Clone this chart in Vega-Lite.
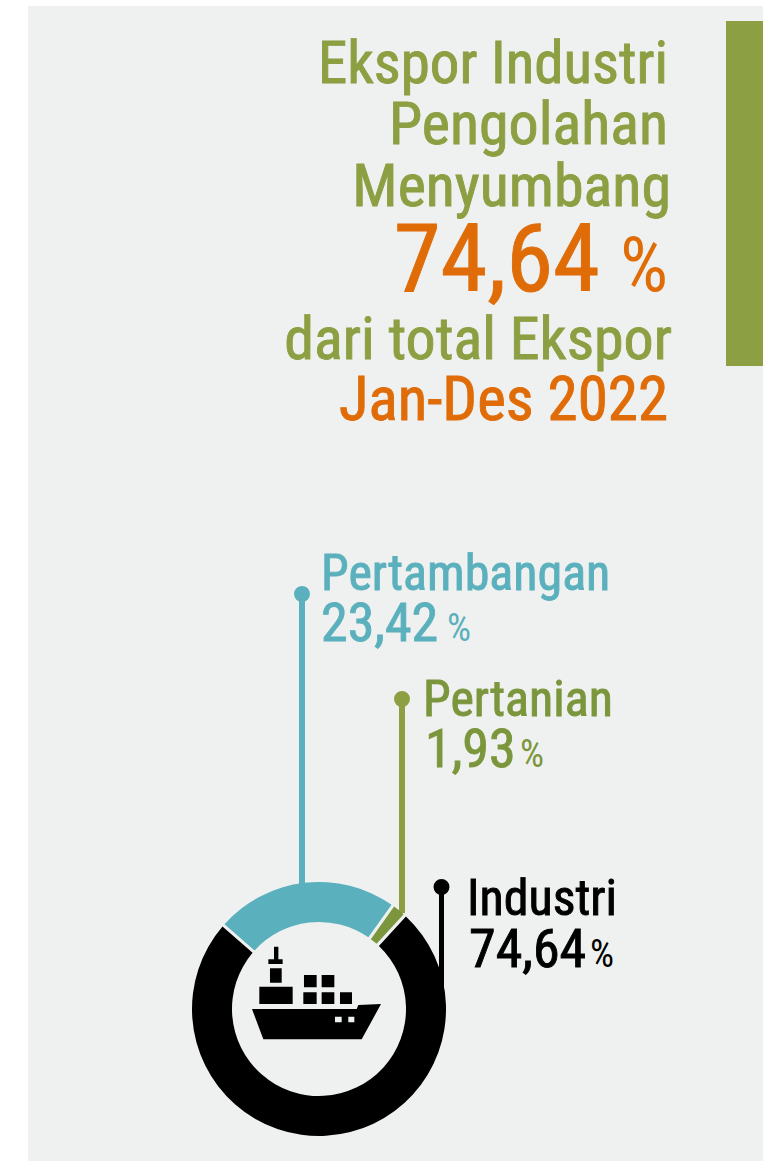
{"$schema":"https://vega.github.io/schema/vega-lite/v6.json","width":735,"height":1155,"padding":{"left":28,"top":6,"right":0,"bottom":0},"autosize":"none","background":"#ffffff","config":{"text":{"font":"Roboto Condensed, Lato","fontWeight":400,"strokeWidth":0.9}},"layer":[
{"data":{"values":[{"k":"panel"}]},"mark":{"type":"rect","x":0,"x2":735,"y":0,"y2":1155,"fill":"#eff1f0"},"encoding":{}},
{"data":{"values":[{"k":"bar"}]},"mark":{"type":"rect","x":698,"x2":735,"y":15,"y2":360,"fill":"#8c9f42"},"encoding":{}},
{"data":{"values":[{"label":"Pertambangan"}]},"mark":{"type":"rect","x":271,"x2":277,"y":588,"y2":880,"fill":"#5bb0bd"},"encoding":{}},
{"data":{"values":[{"label":"Pertanian"}]},"mark":{"type":"rect","x":371,"x2":377,"y":693,"y2":907,"fill":"#8c9f42"},"encoding":{}},
{"data":{"values":[{"label":"Industri"}]},"mark":{"type":"rect","x":411,"x2":416,"y":881,"y2":1000,"fill":"#000000"},"encoding":{}},
{"data":{"values":[{"label":"Pertambangan"}]},"mark":{"type":"point","filled":true,"x":274,"y":588,"size":254,"fill":"#5bb0bd","opacity":1},"encoding":{}},
{"data":{"values":[{"label":"Pertanian"}]},"mark":{"type":"point","filled":true,"x":374,"y":693,"size":254,"fill":"#8c9f42","opacity":1},"encoding":{}},
{"data":{"values":[{"label":"Industri"}]},"mark":{"type":"point","filled":true,"x":413.5,"y":881,"size":254,"fill":"#000000","opacity":1},"encoding":{}},
{"data":{"values":[{"sektor":"Industri","nilai":74.64,"urut":1},{"sektor":"Pertambangan","nilai":23.42,"urut":2},{"sektor":"Pertanian","nilai":1.93,"urut":3}]},"mark":{"type":"arc","x":291,"y":1003,"radius":127,"radius2":87,"padAngle":0.02},"encoding":{"theta":{"field":"nilai","type":"quantitative","stack":true,"scale":{"range":[0.742,7.025]}},"order":{"field":"urut","type":"ordinal"},"color":{"field":"sektor","type":"nominal","legend":null,"scale":{"domain":["Industri","Pertambangan","Pertanian"],"range":["#000000","#5bb0bd","#7b963c"]}}}},
{"data":{"values":[{"k":"ship"}]},"mark":{"type":"point","filled":true,"x":288,"y":994,"size":16900,"fill":"#000000","opacity":1,"shape":"M-.985 .138L.626 .138L.651 .077L1 .062L.703 .605L-.81 .605ZM.292 .256L.292 .344L.395 .344L.395 .256ZM.497 .256L.497 .344L.59 .344L.59 .256ZM-.872 -.205L-.359 -.205L-.359 .062L-.872 .062ZM-.708 -.487L-.528 -.487L-.528 -.267L-.708 -.267ZM-.733 -.626L-.513 -.626L-.513 -.554L-.733 -.554ZM-.646 -.821L-.579 -.821L-.579 -.626L-.646 -.626ZM-.185 -.385L.01 -.385L.01 -.195L-.185 -.195ZM.087 -.385L.282 -.385L.282 -.195L.087 -.195ZM-.195 -.118L.01 -.118L.01 .062L-.195 .062ZM.087 -.118L.282 -.118L.282 .062L.087 .062ZM.369 -.118L.554 -.118L.554 .062L.369 .062Z"},"encoding":{}},
{"data":{"values":[{"t":"Ekspor Industri"}]},"mark":{"type":"text","x":640,"y":77,"align":"right","baseline":"alphabetic","fontSize":59,"color":"#8c9f42","stroke":"#8c9f42"},"encoding":{"text":{"field":"t"}}},
{"data":{"values":[{"t":"Pengolahan"}]},"mark":{"type":"text","x":640,"y":138,"align":"right","baseline":"alphabetic","fontSize":60,"color":"#8c9f42","stroke":"#8c9f42"},"encoding":{"text":{"field":"t"}}},
{"data":{"values":[{"t":"Menyumbang"}]},"mark":{"type":"text","x":643,"y":200,"align":"right","baseline":"alphabetic","fontSize":60,"color":"#8c9f42","stroke":"#8c9f42"},"encoding":{"text":{"field":"t"}}},
{"data":{"values":[{"t":"74,64"}]},"mark":{"type":"text","x":572,"y":285,"align":"right","baseline":"alphabetic","fontSize":95,"color":"#e06c08","stroke":"#e06c08"},"encoding":{"text":{"field":"t"}}},
{"data":{"values":[{"t":"%"}]},"mark":{"type":"text","x":640,"y":285,"align":"right","baseline":"alphabetic","fontSize":76,"color":"#e06c08"},"encoding":{"text":{"field":"t"}}},
{"data":{"values":[{"t":"dari total Ekspor"}]},"mark":{"type":"text","x":644,"y":353,"align":"right","baseline":"alphabetic","fontSize":60,"color":"#8c9f42","stroke":"#8c9f42"},"encoding":{"text":{"field":"t"}}},
{"data":{"values":[{"t":"Jan-Des 2022"}]},"mark":{"type":"text","x":640,"y":414,"align":"right","baseline":"alphabetic","fontSize":61,"color":"#e06c08","stroke":"#e06c08"},"encoding":{"text":{"field":"t"}}},
{"data":{"values":[{"t":"Pertambangan"}]},"mark":{"type":"text","x":293,"y":584,"align":"left","baseline":"alphabetic","fontSize":50,"color":"#5bb0bd","stroke":"#5bb0bd"},"encoding":{"text":{"field":"t"}}},
{"data":{"values":[{"t":"23,42"}]},"mark":{"type":"text","x":293,"y":635,"align":"left","baseline":"alphabetic","fontSize":54,"color":"#5bb0bd","stroke":"#5bb0bd"},"encoding":{"text":{"field":"t"}}},
{"data":{"values":[{"t":"%"}]},"mark":{"type":"text","x":443,"y":635,"align":"right","baseline":"alphabetic","fontSize":38,"color":"#5bb0bd"},"encoding":{"text":{"field":"t"}}},
{"data":{"values":[{"t":"Pertanian"}]},"mark":{"type":"text","x":395,"y":710,"align":"left","baseline":"alphabetic","fontSize":50,"color":"#7b963c","stroke":"#7b963c"},"encoding":{"text":{"field":"t"}}},
{"data":{"values":[{"t":"1,93"}]},"mark":{"type":"text","x":397,"y":761,"align":"left","baseline":"alphabetic","fontSize":54,"color":"#7b963c","stroke":"#7b963c"},"encoding":{"text":{"field":"t"}}},
{"data":{"values":[{"t":"%"}]},"mark":{"type":"text","x":516,"y":761,"align":"right","baseline":"alphabetic","fontSize":38,"color":"#7b963c"},"encoding":{"text":{"field":"t"}}},
{"data":{"values":[{"t":"Industri"}]},"mark":{"type":"text","x":439,"y":909,"align":"left","baseline":"alphabetic","fontSize":50,"color":"#000000","stroke":"#000000"},"encoding":{"text":{"field":"t"}}},
{"data":{"values":[{"t":"74,64"}]},"mark":{"type":"text","x":441,"y":961,"align":"left","baseline":"alphabetic","fontSize":54,"color":"#000000","stroke":"#000000"},"encoding":{"text":{"field":"t"}}},
{"data":{"values":[{"t":"%"}]},"mark":{"type":"text","x":586,"y":961,"align":"right","baseline":"alphabetic","fontSize":38,"color":"#000000"},"encoding":{"text":{"field":"t"}}}
]}
